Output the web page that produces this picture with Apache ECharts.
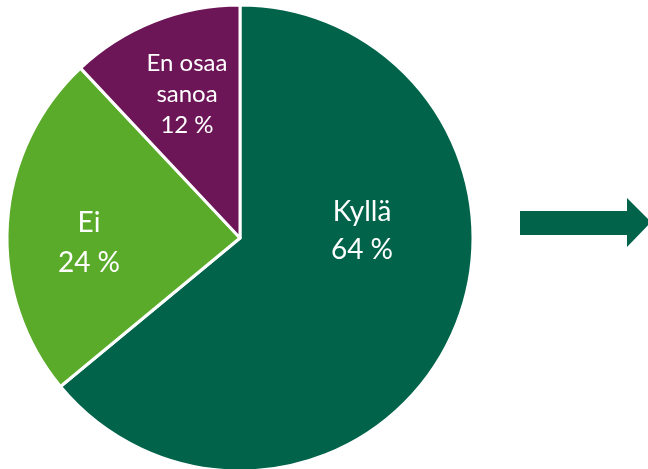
<!DOCTYPE html>
<html lang="fi">
<head>
    <meta charset="UTF-8">
    <title>Kyllä / Ei / En osaa sanoa</title>
    <script src="https://cdn.jsdelivr.net/npm/echarts@6/dist/echarts.min.js"></script>
</head>
<body style="margin:0">
    <div id="container" style="width: 648px; height: 469px;"></div>
    <script>
        var categories = ['Kyllä', 'Ei', 'En osaa\nsanoa'];
        var values = [64, 24, 12];
        var colors = ['#00634a', '#5aab2a', '#6c1557'];

        // label centres (picked by eye, like the office chart's best fit)
        var labelPos = [[362, 231], [89, 243], [187, 94]];
        var labelFont = [[28, 38], [28, 40], [24, 31]];

        var myCharts = echarts.init(document.querySelector('#container'));
        var seriesData = categories.map(function (name, i) {
            return {
                name: name,
                value: values[i],
                itemStyle: { color: colors[i] },
                label: { fontSize: labelFont[i][0], lineHeight: labelFont[i][1] }
            };
        });

        myCharts.setOption({
            backgroundColor: '#ffffff',
            animation: false,
            series: [{
                type: 'pie',
                center: [240, 238],
                radius: [0, 233],
                startAngle: 90,
                clockwise: true,
                data: seriesData,
                itemStyle: { borderColor: '#ffffff', borderWidth: 3 },
                label: {
                    show: true,
                    position: 'inside',
                    color: '#ffffff',
                    fontFamily: 'Lato',
                    align: 'center',
                    formatter: function (p) {
                        return p.name + '\n' + p.value + ' %';
                    }
                },
                labelLine: { show: false },
                labelLayout: function (params) {
                    var pos = labelPos[params.dataIndex];
                    return { x: pos[0], y: pos[1], align: 'center', verticalAlign: 'middle' };
                }
            }],
            graphic: [{
                type: 'polygon',
                shape: {
                    points: [[520, 211], [627, 211], [627, 198], [651, 222], [627, 247], [627, 235], [520, 235]]
                },
                style: { fill: '#00634a' }
            }]
        });
    </script>
</body>
</html>
